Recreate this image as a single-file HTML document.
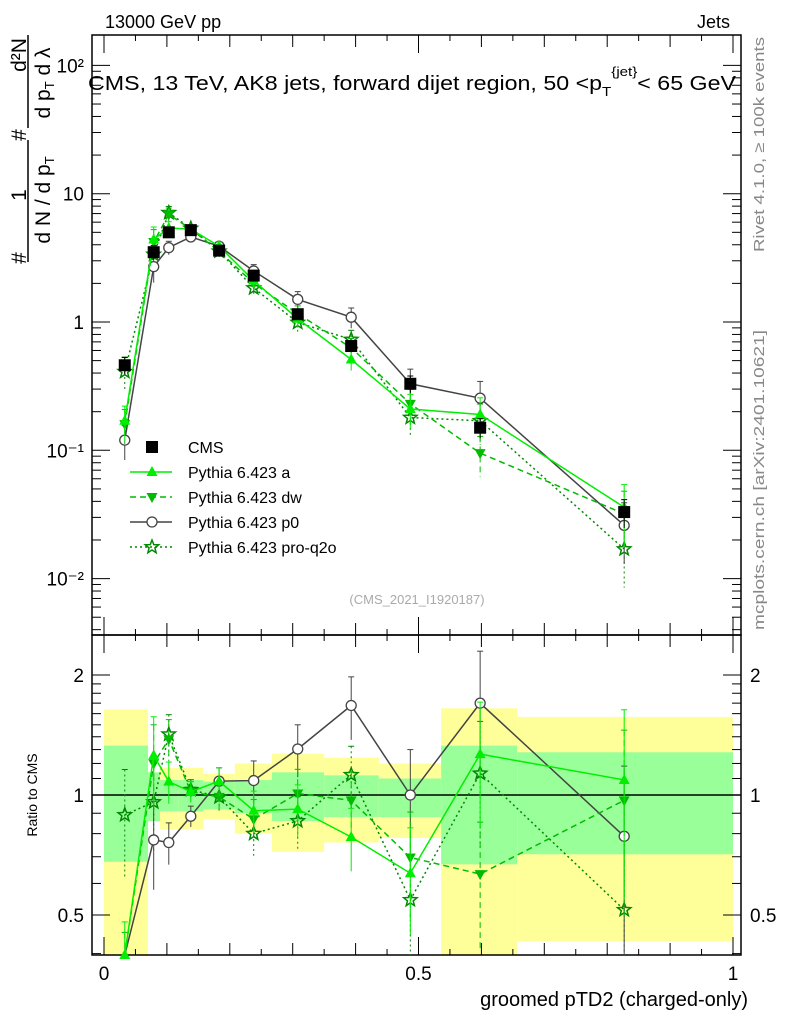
<!DOCTYPE html>
<html><head><meta charset="utf-8"><style>
body{margin:0;background:#fff;}
svg text{font-family:"Liberation Sans",sans-serif;}
</style></head><body>
<svg id="c" width="786" height="1024" xmlns="http://www.w3.org/2000/svg">
<text x="105" y="28" font-size="18">13000 GeV pp</text>
<text x="730" y="28" font-size="18" text-anchor="end">Jets</text>
<g font-size="21">
<text transform="translate(26,258) rotate(-90)" text-anchor="middle">#</text>
<text transform="translate(26,195) rotate(-90)" text-anchor="middle">1</text>
<text transform="translate(26,135) rotate(-90)" text-anchor="middle">#</text>
<text transform="translate(26,55) rotate(-90)" text-anchor="middle">d²N</text>
<line x1="28" y1="262" x2="28" y2="140" stroke="#000" stroke-width="1.5"/>
<line x1="28" y1="128" x2="28" y2="35" stroke="#000" stroke-width="1.5"/>
<text transform="translate(50,200) rotate(-90)" text-anchor="middle">d N / d p<tspan font-size="13" dy="4">T</tspan></text>
<text transform="translate(50,83) rotate(-90)" text-anchor="middle">d p<tspan font-size="13" dy="4">T</tspan><tspan dy="-4"> d λ</tspan></text>
</g>
<text transform="translate(37,795) rotate(-90)" font-size="14" text-anchor="middle">Ratio to CMS</text>
<text transform="translate(764,252) rotate(-90)" font-size="15" fill="#888" textLength="215" lengthAdjust="spacingAndGlyphs">Rivet 4.1.0, ≥ 100k events</text>
<text transform="translate(764,630) rotate(-90)" font-size="15" fill="#888" textLength="300" lengthAdjust="spacingAndGlyphs">mcplots.cern.ch [arXiv:2401.10621]</text>
<text x="748" y="1006" font-size="20" text-anchor="end">groomed pTD2 (charged-only)</text>
<g id="g"></g>
<text x="88" y="90" font-size="20" textLength="648" lengthAdjust="spacingAndGlyphs">CMS, 13 TeV, AK8 jets, forward dijet region, 50 &lt;p<tspan font-size="13" dy="6">T</tspan><tspan font-size="13" dy="-20">{jet}</tspan><tspan dy="14">&lt; 65 GeV</tspan></text>
<text x="417" y="604" font-size="13" fill="#aaa" text-anchor="middle">(CMS_2021_I1920187)</text>
</svg>
<script>
const xs=[0.033,0.079,0.103,0.138,0.183,0.238,0.308,0.393,0.487,0.598,0.827];
const edges=[0,0.07,0.089,0.118,0.158,0.208,0.267,0.35,0.437,0.536,0.657,1.0];
const cms=[0.46,3.5,5.0,5.2,3.6,2.3,1.15,0.65,0.33,0.15,0.033];
const pyA=[0.17,4.4,5.4,5.3,3.9,2.1,1.06,0.51,0.21,0.19,0.036];
const pyDW=[0.16,4.2,6.9,5.3,3.56,2.0,1.16,0.63,0.23,0.095,0.032];
const pyP0=[0.12,2.7,3.8,4.6,3.9,2.5,1.5,1.09,0.33,0.255,0.026];
const pyQ2O=[0.41,3.36,7.1,5.36,3.56,1.84,0.99,0.73,0.18,0.17,0.017];
const relErr=[0.3,0.25,0.12,0.06,0.08,0.12,0.15,0.18,0.3,0.35,0.5];
const bandYUp=[1.64,1.14,1.17,1.17,1.13,1.2,1.27,1.24,1.2,1.65,1.57];
const bandYLo=[0.3,0.86,0.82,0.82,0.87,0.8,0.72,0.76,0.78,0.3,0.43];
const bandGUp=[1.33,1.14,1.09,1.09,1.08,1.09,1.14,1.12,1.1,1.33,1.28];
const bandGLo=[0.68,0.86,0.91,0.91,0.92,0.9,0.86,0.88,0.88,0.67,0.71];
const yTicks=["10²","10","1","10⁻¹","10⁻²"];
const NS="http://www.w3.org/2000/svg",g=document.getElementById('g');
const L=92,R=741,T=35,B=635,RB=955;
const X=v=>104+629*v;
const Y=v=>322-128.3*Math.log10(v);
const RYc=v=>Math.max(B,Math.min(RB,795-398.6*Math.log10(Math.max(v,1e-3))));
function el(t,a,p){const e=document.createElementNS(NS,t);for(const k in a)e.setAttribute(k,a[k]);(p||g).appendChild(e);return e;}
edges.slice(0,-1).forEach((e,i)=>{
 const r=el('rect',{x:X(e),y:RYc(bandYUp[i]),width:X(edges[i+1])-X(e),height:RYc(bandYLo[i])-RYc(bandYUp[i]),fill:'#ffff99'});
 
 
 const r2=el('rect',{x:X(e),y:RYc(bandGUp[i]),width:X(edges[i+1])-X(e),height:RYc(bandGLo[i])-RYc(bandGUp[i]),fill:'#99ff99'});
 
 
});
el('line',{x1:L,x2:R,y1:795,y2:795,stroke:'#000','stroke-width':1.5});
el('rect',{x:L,y:T,width:R-L,height:B-T,fill:'none',stroke:'#000','stroke-width':1.5});
el('rect',{x:L,y:B,width:R-L,height:RB-B,fill:'none',stroke:'#000','stroke-width':1.5});
for(let d=-3;d<=2;d++){for(let m=1;m<10;m++){const v=m*Math.pow(10,d),y=Y(v);if(y<T||y>B)continue;const len=m==1?18:9;
 el('line',{x1:L,x2:L+len,y1:y,y2:y,stroke:'#000'});el('line',{x1:R,x2:R-len,y1:y,y2:y,stroke:'#000'});}}
yTicks.forEach((t,i)=>{const tx=el('text',{x:84,y:Y(Math.pow(10,2-i))+7,'font-size':19,'text-anchor':'end'});tx.textContent=t;
 
 });
[0.4,0.5,0.6,0.7,0.8,0.9,1,1.1,1.2,1.3,1.4,1.5,1.6,1.7,1.8,1.9,2].forEach(v=>{const y=RYc(v);const len=(v==0.5||v==1||v==2)?18:9;
 el('line',{x1:L,x2:L+len,y1:y,y2:y,stroke:'#000'});el('line',{x1:R,x2:R-len,y1:y,y2:y,stroke:'#000'});});
[["2",2],["1",1],["0.5",0.5]].forEach(([t,v])=>{[[84,'end'],[750,'start']].forEach(([x,a])=>{const tx=el('text',{x:x,y:RYc(v)+7,'font-size':19,'text-anchor':a});tx.textContent=t;
 
 });});
for(let i=0;i<=20;i++){const v=i*0.05,x=X(v),len=i%10==0?18:(i%2==0?12:6);
 [[T,1],[B,-1],[B,1],[RB,-1]].forEach(([y,s])=>el('line',{x1:x,x2:x,y1:y,y2:y+s*len,stroke:'#000'}));}
[["0",0],["0.5",0.5],["1",1]].forEach(([t,v])=>{const tx=el('text',{x:X(v),y:980,'font-size':19,'text-anchor':'middle'});tx.textContent=t;
 
 });
function marker(type,x,y,col,p){
 if(type=='sq')el('rect',{x:x-6,y:y-6,width:12,height:12,fill:'#000'},p);
 else if(type=='tu')el('polygon',{points:`${x},${y-6} ${x-5.5},${y+4} ${x+5.5},${y+4}`,fill:col},p);
 else if(type=='td')el('polygon',{points:`${x},${y+6} ${x-5.5},${y-4} ${x+5.5},${y-4}`,fill:col},p);
 else if(type=='o')el('circle',{cx:x,cy:y,r:5,fill:'#fff',stroke:col,'stroke-width':1.3},p);
 else{let pts=[];for(let k=0;k<10;k++){const r=k%2?3:7,a=-Math.PI/2+k*Math.PI/5;pts.push((x+r*Math.cos(a)).toFixed(1)+','+(y+r*Math.sin(a)).toFixed(1));}
  el('polygon',{points:pts.join(' '),fill:'none',stroke:col,'stroke-width':1.5},p);}
}
const series=[
 {n:'cms',d:cms,c:'#000',m:'sq',dash:null},
 {n:'pythia-a',d:pyA,c:'#00ee00',m:'tu',dash:''},
 {n:'pythia-dw',d:pyDW,c:'#00bb00',m:'td',dash:'6,4'},
 {n:'pythia-p0',d:pyP0,c:'#444',m:'o',dash:''},
 {n:'pythia-pro-q2o',d:pyQ2O,c:'#008800',m:'st',dash:'2,3'}];
series.slice().reverse().forEach(s=>{
 const grp=el('g',{});
 
 
 if(s.dash!==null){
  el('polyline',{points:s.d.map((v,i)=>X(xs[i])+','+Y(v)).join(' '),fill:'none',stroke:s.c,'stroke-width':1.5,'stroke-dasharray':s.dash},grp);
  el('polyline',{points:s.d.map((v,i)=>X(xs[i])+','+RYc(v/cms[i])).join(' '),fill:'none',stroke:s.c,'stroke-width':1.5,'stroke-dasharray':s.dash},grp);
 }
 s.d.forEach((v,i)=>{const x=X(xs[i]),e=relErr[i]*(s.n=='cms'?0.5:1);
  const y1=Y(v*(1+e)),y2=Y(Math.max(v*(1-e),1e-3));
  el('line',{x1:x,x2:x,y1:Math.max(T,y1),y2:Math.min(B,y2),stroke:s.c,'stroke-dasharray':s.dash||''},grp);
  el('line',{x1:x-3,x2:x+3,y1:y1,y2:y1,stroke:s.c},grp);
  const r=v/cms[i];
  if(s.n!='cms'){const ry1=RYc(r*(1+e)),ry2=RYc(Math.max(r*(1-e),1e-3));
   el('line',{x1:x,x2:x,y1:ry1,y2:ry2,stroke:s.c,'stroke-dasharray':s.dash||''},grp);
   el('line',{x1:x-3,x2:x+3,y1:ry1,y2:ry1,stroke:s.c},grp);
   if(r>0.36) marker(s.m,x,RYc(r),s.c,grp);}
  marker(s.m,x,Y(v),s.c,grp);
 });
});
const names=["CMS","Pythia 6.423 a","Pythia 6.423 dw","Pythia 6.423 p0","Pythia 6.423 pro-q2o"];
series.forEach((s,i)=>{const y=447+25*i;const lg=el('g',{});
 
 
 if(s.dash!==null)el('line',{x1:130,x2:172,y1:y,y2:y,stroke:s.c,'stroke-width':1.5,'stroke-dasharray':s.dash},lg);
 marker(s.m,152,y,s.c,lg);
 const t=el('text',{x:188,y:y+6,'font-size':16},lg);t.textContent=names[i];});
</script>
</body></html>
